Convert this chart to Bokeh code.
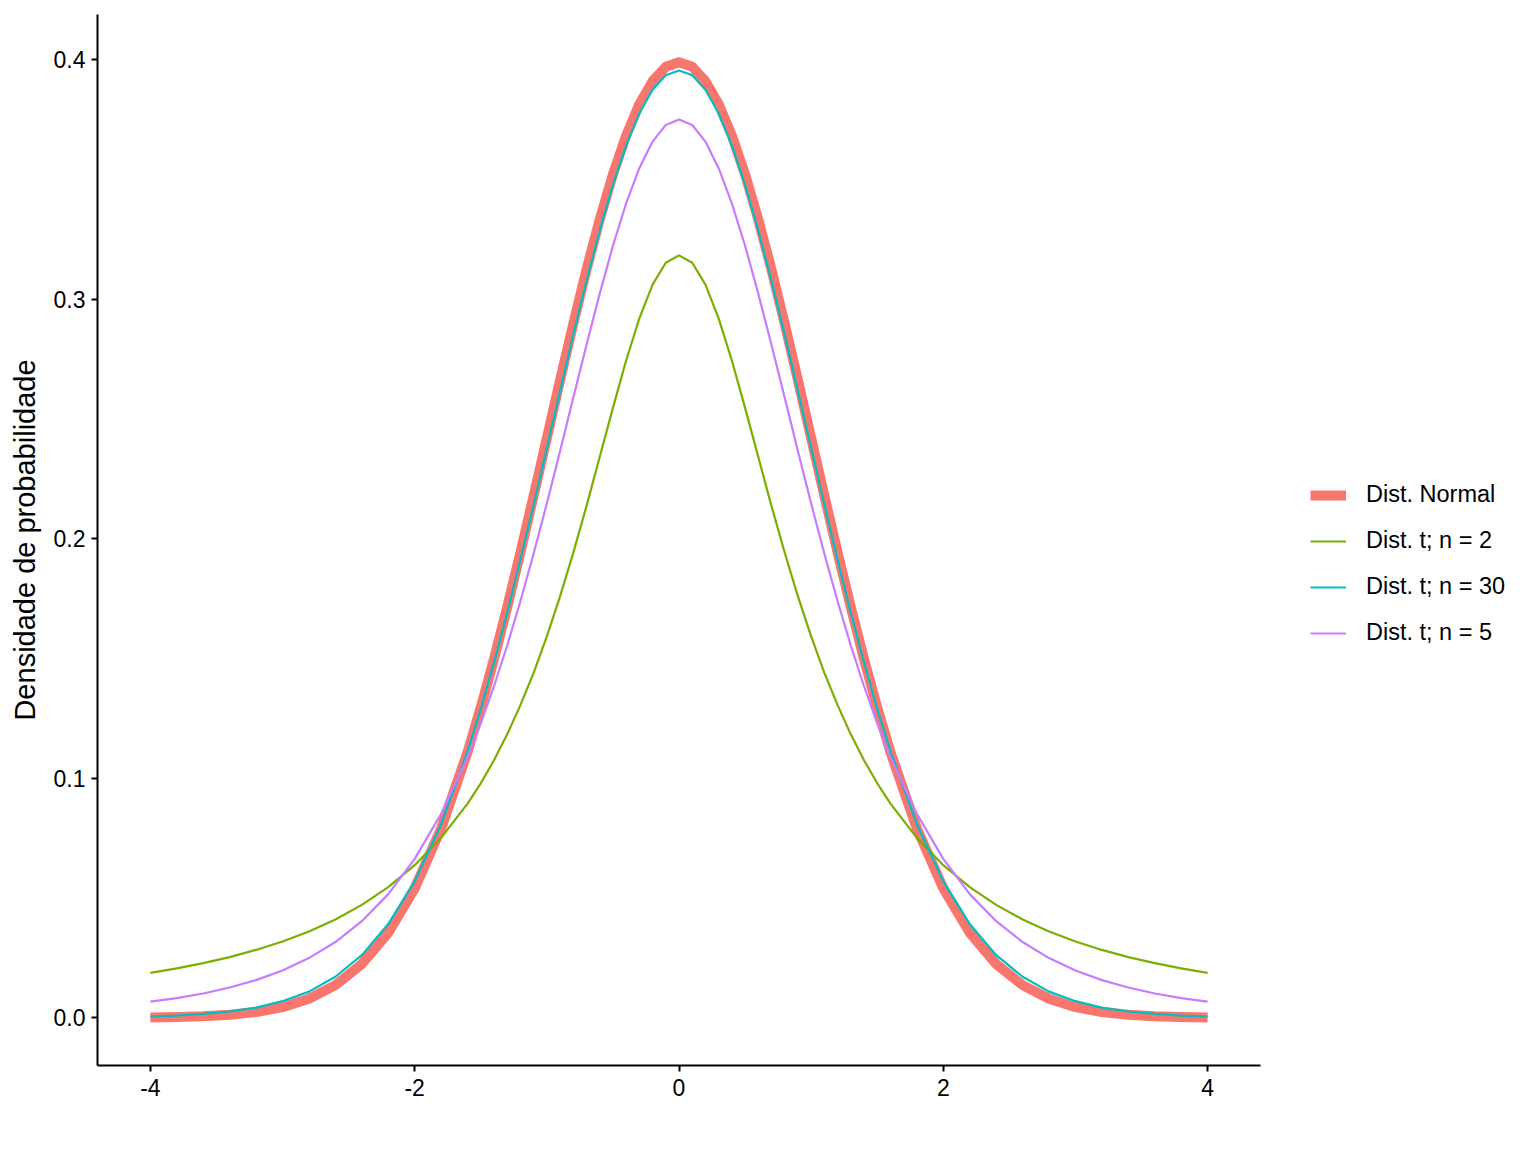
from bokeh.plotting import figure
from bokeh.models import Range1d, FixedTicker, Legend, LegendItem
from bokeh.embed import file_html
from bokeh.resources import INLINE

x_vals = [-4.0, -3.8, -3.6, -3.4, -3.2, -3.0, -2.8, -2.6, -2.4, -2.2, -2.0, -1.8, -1.6,
          -1.5, -1.4, -1.3, -1.2, -1.1, -1.0, -0.9, -0.8, -0.7, -0.6, -0.5, -0.4, -0.3, -0.2, -0.1,
          0.0,
          0.1, 0.2, 0.3, 0.4, 0.5, 0.6, 0.7, 0.8, 0.9, 1.0, 1.1, 1.2, 1.3, 1.4, 1.5,
          1.6, 1.8, 2.0, 2.2, 2.4, 2.6, 2.8, 3.0, 3.2, 3.4, 3.6, 3.8, 4.0]

normal = [0.0001, 0.0003, 0.0006, 0.0012, 0.0024, 0.0044, 0.0079, 0.0136, 0.0224, 0.0355, 0.0540, 0.0790, 0.1109,
          0.1295, 0.1497, 0.1714, 0.1942, 0.2179, 0.2420, 0.2661, 0.2897, 0.3123, 0.3332, 0.3521, 0.3683, 0.3814, 0.3910, 0.3970,
          0.3989,
          0.3970, 0.3910, 0.3814, 0.3683, 0.3521, 0.3332, 0.3123, 0.2897, 0.2661, 0.2420, 0.2179, 0.1942, 0.1714, 0.1497, 0.1295,
          0.1109, 0.0790, 0.0540, 0.0355, 0.0224, 0.0136, 0.0079, 0.0044, 0.0024, 0.0012, 0.0006, 0.0003, 0.0001]

t_n2 = [0.0187, 0.0206, 0.0228, 0.0253, 0.0283, 0.0318, 0.0360, 0.0410, 0.0471, 0.0545, 0.0637, 0.0751, 0.0894,
        0.0979, 0.1075, 0.1183, 0.1305, 0.1440, 0.1592, 0.1759, 0.1941, 0.2136, 0.2341, 0.2546, 0.2744, 0.2920, 0.3061, 0.3152,
        0.3183,
        0.3152, 0.3061, 0.2920, 0.2744, 0.2546, 0.2341, 0.2136, 0.1941, 0.1759, 0.1592, 0.1440, 0.1305, 0.1183, 0.1075, 0.0979,
        0.0894, 0.0751, 0.0637, 0.0545, 0.0471, 0.0410, 0.0360, 0.0318, 0.0283, 0.0253, 0.0228, 0.0206, 0.0187]

t_n30 = [0.0005, 0.0009, 0.0016, 0.0026, 0.0042, 0.0069, 0.0109, 0.0171, 0.0261, 0.0391, 0.0569, 0.0808, 0.1112,
         0.1289, 0.1483, 0.1691, 0.1912, 0.2142, 0.2379, 0.2616, 0.2851, 0.3076, 0.3287, 0.3477, 0.3642, 0.3776, 0.3874, 0.3935,
         0.3955,
         0.3935, 0.3874, 0.3776, 0.3642, 0.3477, 0.3287, 0.3076, 0.2851, 0.2616, 0.2379, 0.2142, 0.1912, 0.1691, 0.1483, 0.1289,
         0.1112, 0.0808, 0.0569, 0.0391, 0.0261, 0.0171, 0.0109, 0.0069, 0.0042, 0.0026, 0.0016, 0.0009, 0.0005]

t_n5 = [0.0067, 0.0082, 0.0101, 0.0126, 0.0157, 0.0197, 0.0249, 0.0316, 0.0403, 0.0516, 0.0663, 0.0851, 0.1089,
        0.1229, 0.1384, 0.1554, 0.1739, 0.1937, 0.2147, 0.2365, 0.2588, 0.2809, 0.3023, 0.3223, 0.3400, 0.3547, 0.3658, 0.3727,
        0.3750,
        0.3727, 0.3658, 0.3547, 0.3400, 0.3223, 0.3023, 0.2809, 0.2588, 0.2365, 0.2147, 0.1937, 0.1739, 0.1554, 0.1384, 0.1229,
        0.1089, 0.0851, 0.0663, 0.0516, 0.0403, 0.0316, 0.0249, 0.0197, 0.0157, 0.0126, 0.0101, 0.0082, 0.0067]

series_labels = ["Dist. Normal", "Dist. t; n = 2", "Dist. t; n = 30", "Dist. t; n = 5"]
x_ticks = [-4, -2, 0, 2, 4]
x_tick_labels = ["-4", "-2", "0", "2", "4"]
y_ticks = [0.0, 0.1, 0.2, 0.3, 0.4]
y_tick_labels = ["0.0", "0.1", "0.2", "0.3", "0.4"]
y_title = "Densidade de probabilidade"

FONT = "Liberation Sans"

p = figure(output_backend="svg", toolbar_location=None,
           frame_width=1163, frame_height=1051,
           x_range=Range1d(-4.4, 4.4), y_range=Range1d(-0.01995, 0.41885),
           min_border_left=97, min_border_top=14, min_border_bottom=85,
           min_border_right=270)
p.background_fill_color = "white"
p.border_fill_color = "white"
p.outline_line_color = None
p.xgrid.visible = False
p.ygrid.visible = False

r_norm = p.line(x_vals, normal, line_color="#F8766D", line_width=10, line_join="round")
r_n2 = p.line(x_vals, t_n2, line_color="#7CAE00", line_width=2.2, line_join="round")
r_n30 = p.line(x_vals, t_n30, line_color="#00BFC4", line_width=2.2, line_join="round")
r_n5 = p.line(x_vals, t_n5, line_color="#C77CFF", line_width=2.2, line_join="round")

for ax in (p.xaxis[0], p.yaxis[0]):
    ax.axis_line_color = "black"
    ax.axis_line_width = 2
    ax.major_tick_line_color = "black"
    ax.major_tick_line_width = 2
    ax.major_tick_out = 6
    ax.major_tick_in = 0
    ax.minor_tick_line_color = None
    ax.major_label_text_font = FONT
    ax.major_label_text_font_size = "23px"
    ax.major_label_text_color = "black"

p.xaxis[0].major_label_standoff = 7
p.yaxis[0].major_label_standoff = 6
p.xaxis[0].ticker = FixedTicker(ticks=x_ticks)
p.xaxis[0].major_label_overrides = {t: l for t, l in zip(x_ticks, x_tick_labels)}
p.yaxis[0].ticker = FixedTicker(ticks=y_ticks)
p.yaxis[0].major_label_overrides = {t: l for t, l in zip(y_ticks, y_tick_labels)}
p.yaxis[0].axis_label = y_title
p.yaxis[0].axis_label_text_font = FONT
p.yaxis[0].axis_label_text_font_size = "29px"
p.yaxis[0].axis_label_text_font_style = "normal"
p.yaxis[0].axis_label_text_color = "black"
p.yaxis[0].axis_label_standoff = 10

legend = Legend(items=[
    LegendItem(label=series_labels[0], renderers=[r_norm]),
    LegendItem(label=series_labels[1], renderers=[r_n2]),
    LegendItem(label=series_labels[2], renderers=[r_n30]),
    LegendItem(label=series_labels[3], renderers=[r_n5]),
], location=(50, 419))
legend.margin = 0
legend.padding = 0
legend.border_line_color = None
legend.background_fill_alpha = 0
legend.glyph_width = 36
legend.glyph_height = 26
legend.label_height = 26
legend.label_standoff = 20
legend.spacing = 19
legend.label_text_font = FONT
legend.label_text_font_size = "23.5px"
legend.label_text_color = "black"
p.add_layout(legend, "right")

open("out.html", "w").write(file_html(p, INLINE))
